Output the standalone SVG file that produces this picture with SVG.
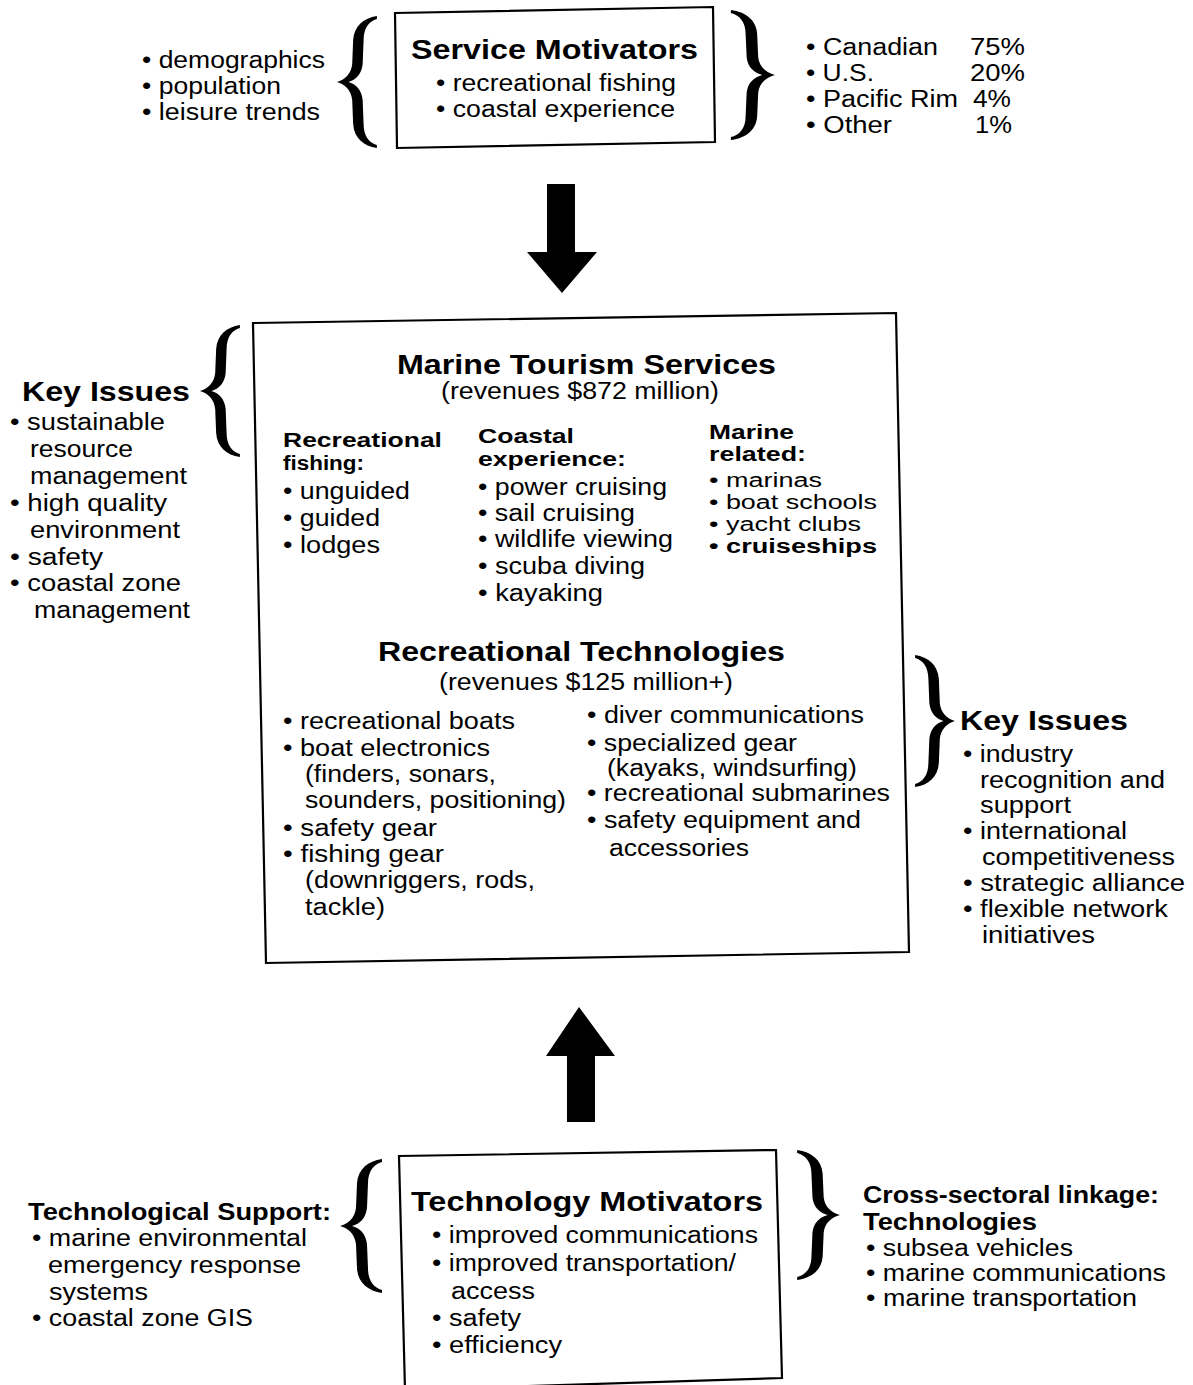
<svg xmlns="http://www.w3.org/2000/svg" width="1193" height="1385" viewBox="0 0 1193 1385">
<style>
.t{font-family:"Liberation Sans",Arial,Helvetica,sans-serif;font-size:23px;fill:#000}
.b{font-weight:bold}
.h{font-size:27px;font-weight:bold}
.s{font-size:19.5px}
.box{fill:none;stroke:#000;stroke-width:2.2}
.ink{fill:#000}
</style>
<defs>
<path id="brace" d="M42,0 C28,2 18,10 17,24 L16,48 C15,58 8,64 0,66 C8,68 15,74 16,84 L17,108 C18,122 28,130 42,132 L42,129 C34,127 28,120 28,108 L27,84 C26,74 20,68 12,66 C20,64 26,58 27,48 L28,24 C28,12 34,5 42,3 Z"/>
</defs>
<rect width="1193" height="1385" fill="#fff"/>

<g id="connectors">
<polygon class="ink" points="547,184 575,184 575,252 597,252 562,293 527,252 547,252"/>
<polygon class="ink" points="567,1122 595,1122 595,1056 615,1056 579,1007 546,1056 567,1056"/>
</g>

<g id="service-motivators">
<polygon class="box" points="395,13 713,7 715,142 397,148"/>
<text class="t h" x="411" y="59" textLength="287" lengthAdjust="spacingAndGlyphs">Service Motivators</text>
<text class="t" x="436" y="91" textLength="240" lengthAdjust="spacingAndGlyphs">• recreational fishing</text>
<text class="t" x="436" y="117" textLength="239" lengthAdjust="spacingAndGlyphs">• coastal experience</text>
</g>

<g id="service-drivers">
<use href="#brace" transform="translate(337,16) scale(0.95,1)"/>
<text class="t" x="142" y="68" textLength="183" lengthAdjust="spacingAndGlyphs">• demographics</text>
<text class="t" x="142" y="94" textLength="139" lengthAdjust="spacingAndGlyphs">• population</text>
<text class="t" x="142" y="120" textLength="178" lengthAdjust="spacingAndGlyphs">• leisure trends</text>
</g>

<g id="markets">
<use href="#brace" transform="translate(775,10) scale(-1.05,0.985)"/>
<text class="t" x="806" y="55" textLength="132" lengthAdjust="spacingAndGlyphs">• Canadian</text>
<text class="t" x="970" y="55" textLength="55" lengthAdjust="spacingAndGlyphs">75%</text>
<text class="t" x="806" y="81" textLength="68" lengthAdjust="spacingAndGlyphs">• U.S.</text>
<text class="t" x="970" y="81" textLength="55" lengthAdjust="spacingAndGlyphs">20%</text>
<text class="t" x="806" y="107" textLength="152" lengthAdjust="spacingAndGlyphs">• Pacific Rim</text>
<text class="t" x="973" y="107" textLength="38" lengthAdjust="spacingAndGlyphs">4%</text>
<text class="t" x="806" y="133" textLength="86" lengthAdjust="spacingAndGlyphs">• Other</text>
<text class="t" x="975" y="133" textLength="37" lengthAdjust="spacingAndGlyphs">1%</text>
</g>

<g id="marine-tourism">
<polygon class="box" points="253,323 896,313 909,952 266,963"/>
<text class="t h" x="397" y="374" textLength="379" lengthAdjust="spacingAndGlyphs">Marine Tourism Services</text>
<text class="t" x="441" y="399" textLength="278" lengthAdjust="spacingAndGlyphs">(revenues $872 million)</text>

<text class="t b s" x="283" y="447" textLength="159" lengthAdjust="spacingAndGlyphs">Recreational</text>
<text class="t b s" x="283" y="470" textLength="81" lengthAdjust="spacingAndGlyphs">fishing:</text>
<text class="t" x="283" y="499" textLength="127" lengthAdjust="spacingAndGlyphs">• unguided</text>
<text class="t" x="283" y="526" textLength="97" lengthAdjust="spacingAndGlyphs">• guided</text>
<text class="t" x="283" y="553" textLength="97" lengthAdjust="spacingAndGlyphs">• lodges</text>

<text class="t b s" x="478" y="443" textLength="96" lengthAdjust="spacingAndGlyphs">Coastal</text>
<text class="t b s" x="478" y="466" textLength="148" lengthAdjust="spacingAndGlyphs">experience:</text>
<text class="t" x="478" y="495" textLength="189" lengthAdjust="spacingAndGlyphs">• power cruising</text>
<text class="t" x="478" y="521" textLength="157" lengthAdjust="spacingAndGlyphs">• sail cruising</text>
<text class="t" x="478" y="547" textLength="195" lengthAdjust="spacingAndGlyphs">• wildlife viewing</text>
<text class="t" x="478" y="574" textLength="167" lengthAdjust="spacingAndGlyphs">• scuba diving</text>
<text class="t" x="478" y="601" textLength="125" lengthAdjust="spacingAndGlyphs">• kayaking</text>

<text class="t b s" x="709" y="439" textLength="85" lengthAdjust="spacingAndGlyphs">Marine</text>
<text class="t b s" x="709" y="461" textLength="97" lengthAdjust="spacingAndGlyphs">related:</text>
<text class="t s" x="709" y="487" textLength="113" lengthAdjust="spacingAndGlyphs">• marinas</text>
<text class="t s" x="709" y="509" textLength="168" lengthAdjust="spacingAndGlyphs">• boat schools</text>
<text class="t s" x="709" y="531" textLength="152" lengthAdjust="spacingAndGlyphs">• yacht clubs</text>
<text class="t b s" x="709" y="553" textLength="168" lengthAdjust="spacingAndGlyphs">• cruiseships</text>

<text class="t h" x="378" y="661" textLength="407" lengthAdjust="spacingAndGlyphs">Recreational Technologies</text>
<text class="t" x="439" y="690" textLength="294" lengthAdjust="spacingAndGlyphs">(revenues $125 million+)</text>

<text class="t" x="283" y="729" textLength="232" lengthAdjust="spacingAndGlyphs">• recreational boats</text>
<text class="t" x="283" y="756" textLength="207" lengthAdjust="spacingAndGlyphs">• boat electronics</text>
<text class="t" x="305" y="782" textLength="191" lengthAdjust="spacingAndGlyphs">(finders, sonars,</text>
<text class="t" x="305" y="808" textLength="261" lengthAdjust="spacingAndGlyphs">sounders, positioning)</text>
<text class="t" x="283" y="836" textLength="154" lengthAdjust="spacingAndGlyphs">• safety gear</text>
<text class="t" x="283" y="862" textLength="161" lengthAdjust="spacingAndGlyphs">• fishing gear</text>
<text class="t" x="305" y="888" textLength="230" lengthAdjust="spacingAndGlyphs">(downriggers, rods,</text>
<text class="t" x="305" y="915" textLength="80" lengthAdjust="spacingAndGlyphs">tackle)</text>

<text class="t" x="587" y="723" textLength="277" lengthAdjust="spacingAndGlyphs">• diver communications</text>
<text class="t" x="587" y="751" textLength="210" lengthAdjust="spacingAndGlyphs">• specialized gear</text>
<text class="t" x="607" y="776" textLength="250" lengthAdjust="spacingAndGlyphs">(kayaks, windsurfing)</text>
<text class="t" x="587" y="801" textLength="303" lengthAdjust="spacingAndGlyphs">• recreational submarines</text>
<text class="t" x="587" y="828" textLength="274" lengthAdjust="spacingAndGlyphs">• safety equipment and</text>
<text class="t" x="609" y="856" textLength="140" lengthAdjust="spacingAndGlyphs">accessories</text>
</g>

<g id="key-issues-services">
<use href="#brace" transform="translate(200,325) scale(0.95,1)"/>
<text class="t h" x="22" y="401" textLength="168" lengthAdjust="spacingAndGlyphs">Key Issues</text>
<text class="t" x="10" y="430" textLength="155" lengthAdjust="spacingAndGlyphs">• sustainable</text>
<text class="t" x="30" y="457" textLength="103" lengthAdjust="spacingAndGlyphs">resource</text>
<text class="t" x="30" y="484" textLength="157" lengthAdjust="spacingAndGlyphs">management</text>
<text class="t" x="10" y="511" textLength="157" lengthAdjust="spacingAndGlyphs">• high quality</text>
<text class="t" x="30" y="538" textLength="150" lengthAdjust="spacingAndGlyphs">environment</text>
<text class="t" x="10" y="565" textLength="93" lengthAdjust="spacingAndGlyphs">• safety</text>
<text class="t" x="10" y="591" textLength="171" lengthAdjust="spacingAndGlyphs">• coastal zone</text>
<text class="t" x="34" y="618" textLength="156" lengthAdjust="spacingAndGlyphs">management</text>
</g>

<g id="key-issues-technologies">
<use href="#brace" transform="translate(955,655) scale(-0.95,1.0)"/>
<text class="t h" x="960" y="730" textLength="168" lengthAdjust="spacingAndGlyphs">Key Issues</text>
<text class="t" x="963" y="762" textLength="110" lengthAdjust="spacingAndGlyphs">• industry</text>
<text class="t" x="980" y="788" textLength="185" lengthAdjust="spacingAndGlyphs">recognition and</text>
<text class="t" x="980" y="813" textLength="91" lengthAdjust="spacingAndGlyphs">support</text>
<text class="t" x="963" y="839" textLength="164" lengthAdjust="spacingAndGlyphs">• international</text>
<text class="t" x="982" y="865" textLength="193" lengthAdjust="spacingAndGlyphs">competitiveness</text>
<text class="t" x="963" y="891" textLength="222" lengthAdjust="spacingAndGlyphs">• strategic alliance</text>
<text class="t" x="963" y="917" textLength="205" lengthAdjust="spacingAndGlyphs">• flexible network</text>
<text class="t" x="982" y="943" textLength="113" lengthAdjust="spacingAndGlyphs">initiatives</text>
</g>

<g id="technology-motivators">
<polygon class="box" points="399,1156 776,1150 782,1378 405,1390"/>
<text class="t h" x="411" y="1211" textLength="352" lengthAdjust="spacingAndGlyphs">Technology Motivators</text>
<text class="t" x="432" y="1243" textLength="326" lengthAdjust="spacingAndGlyphs">• improved communications</text>
<text class="t" x="432" y="1271" textLength="304" lengthAdjust="spacingAndGlyphs">• improved transportation/</text>
<text class="t" x="451" y="1299" textLength="84" lengthAdjust="spacingAndGlyphs">access</text>
<text class="t" x="432" y="1326" textLength="89" lengthAdjust="spacingAndGlyphs">• safety</text>
<text class="t" x="432" y="1353" textLength="130" lengthAdjust="spacingAndGlyphs">• efficiency</text>
</g>

<g id="technological-support">
<use href="#brace" transform="translate(340,1159) scale(1,1.015)"/>
<text class="t b" x="28" y="1220" textLength="303" lengthAdjust="spacingAndGlyphs">Technological Support:</text>
<text class="t" x="32" y="1246" textLength="275" lengthAdjust="spacingAndGlyphs">• marine environmental</text>
<text class="t" x="48" y="1273" textLength="253" lengthAdjust="spacingAndGlyphs">emergency response</text>
<text class="t" x="49" y="1300" textLength="99" lengthAdjust="spacingAndGlyphs">systems</text>
<text class="t" x="32" y="1326" textLength="221" lengthAdjust="spacingAndGlyphs">• coastal zone GIS</text>
</g>

<g id="cross-sectoral">
<use href="#brace" transform="translate(840,1150) scale(-1.02,0.985)"/>
<text class="t b" x="863" y="1203" textLength="296" lengthAdjust="spacingAndGlyphs">Cross-sectoral linkage:</text>
<text class="t b" x="863" y="1230" textLength="174" lengthAdjust="spacingAndGlyphs">Technologies</text>
<text class="t" x="866" y="1256" textLength="207" lengthAdjust="spacingAndGlyphs">• subsea vehicles</text>
<text class="t" x="866" y="1281" textLength="300" lengthAdjust="spacingAndGlyphs">• marine communications</text>
<text class="t" x="866" y="1306" textLength="271" lengthAdjust="spacingAndGlyphs">• marine transportation</text>
</g>
</svg>
